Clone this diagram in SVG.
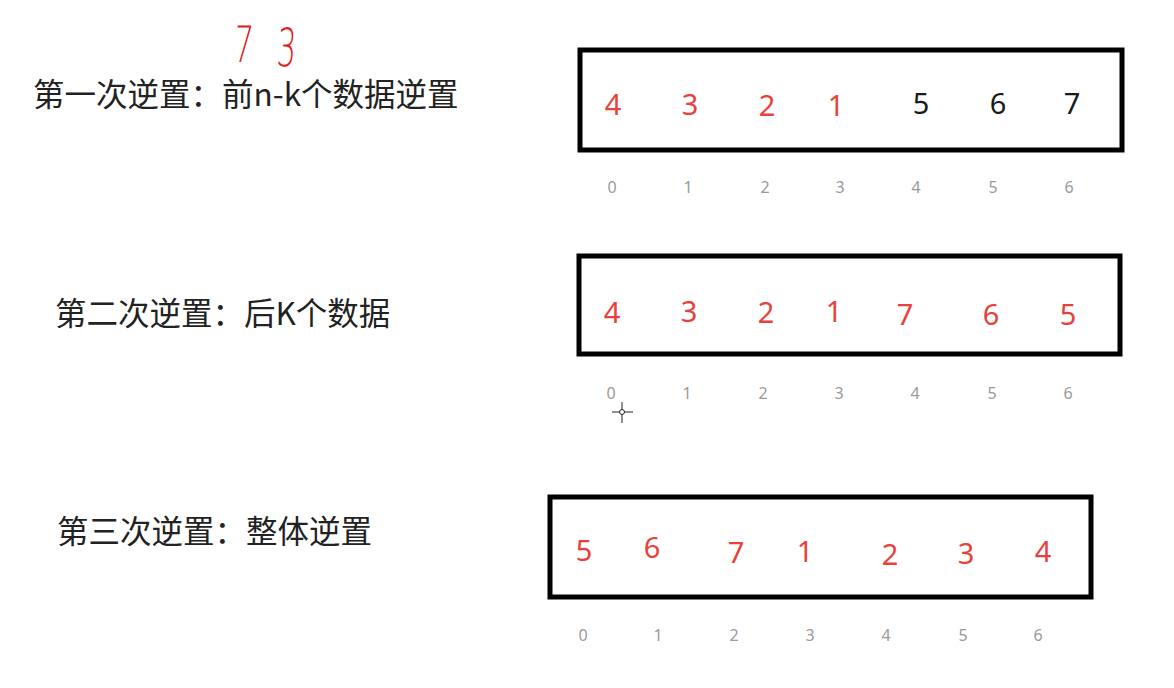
<svg xmlns="http://www.w3.org/2000/svg" width="1174" height="688" viewBox="0 0 1174 688">
<style>
.lbl{font-family:"Noto Sans CJK SC","Noto Sans",sans-serif;font-size:31.5px;fill:#222}
.box{fill:#fff;stroke:#000;stroke-width:5}
.n{font-family:"Noto Sans","Open Sans",sans-serif;font-size:29px;text-anchor:middle;fill:#e8413b}
.k{fill:#1a1a1a}
.i{font-family:"Noto Sans","Open Sans",sans-serif;font-size:16px;text-anchor:middle;fill:#9a9a9a}
.hw{font-family:"DejaVu Sans",sans-serif;font-size:50px;font-weight:200;fill:#e02020}
</style>
<rect width="1174" height="688" fill="#fff"/>
<g id="labels">
<text class="lbl" x="33" y="106">第一次逆置：前n-k个数据逆置</text>
<text class="lbl" x="55" y="325">第二次逆置：后K个数据</text>
<text class="lbl" x="57" y="543">第三次逆置：整体逆置</text>
<text class="hw" transform="translate(233,62) scale(0.6,1) skewX(-6)">7</text>
<text class="hw" transform="translate(276,66) scale(0.6,1.05) skewX(-6)">3</text>
</g>
<g id="row1">
<rect class="box" x="580" y="50" width="542" height="100"/>
<text class="n" x="613" y="115">4</text><text class="n" x="690" y="115">3</text><text class="n" x="767" y="116">2</text><text class="n" x="836" y="116">1</text>
<text class="n k" x="921" y="114">5</text><text class="n k" x="998" y="114">6</text><text class="n k" x="1072" y="114">7</text>
<text class="i" x="612" y="193">0</text><text class="i" x="688" y="193">1</text><text class="i" x="765" y="193">2</text><text class="i" x="840" y="193">3</text><text class="i" x="916" y="193">4</text><text class="i" x="993" y="193">5</text><text class="i" x="1069" y="193">6</text>
</g>
<g id="row2">
<rect class="box" x="579" y="256" width="541" height="98"/>
<text class="n" x="612" y="323">4</text><text class="n" x="689" y="322">3</text><text class="n" x="766" y="323">2</text><text class="n" x="834" y="322">1</text><text class="n" x="905" y="325">7</text><text class="n" x="991" y="325">6</text><text class="n" x="1068" y="325">5</text>
<text class="i" x="611" y="399">0</text><text class="i" x="687" y="399">1</text><text class="i" x="763" y="399">2</text><text class="i" x="839" y="399">3</text><text class="i" x="915" y="399">4</text><text class="i" x="992" y="399">5</text><text class="i" x="1068" y="399">6</text>
</g>
<g id="row3">
<rect class="box" x="550" y="497" width="541" height="100"/>
<text class="n" x="584" y="561">5</text><text class="n" x="652" y="558">6</text><text class="n" x="736" y="563">7</text><text class="n" x="805" y="562">1</text><text class="n" x="890" y="565">2</text><text class="n" x="966" y="564">3</text><text class="n" x="1043" y="562">4</text>
<text class="i" x="583" y="641">0</text><text class="i" x="658" y="641">1</text><text class="i" x="734" y="641">2</text><text class="i" x="810" y="641">3</text><text class="i" x="886" y="641">4</text><text class="i" x="963" y="641">5</text><text class="i" x="1038" y="641">6</text>
</g>
<g id="cursor" stroke="#222" stroke-width="1" fill="none">
<line x1="622" y1="402" x2="622" y2="423"/><line x1="612" y1="412" x2="633" y2="412"/>
<circle cx="622" cy="412" r="2.5" fill="#fff"/>
</g>
</svg>
